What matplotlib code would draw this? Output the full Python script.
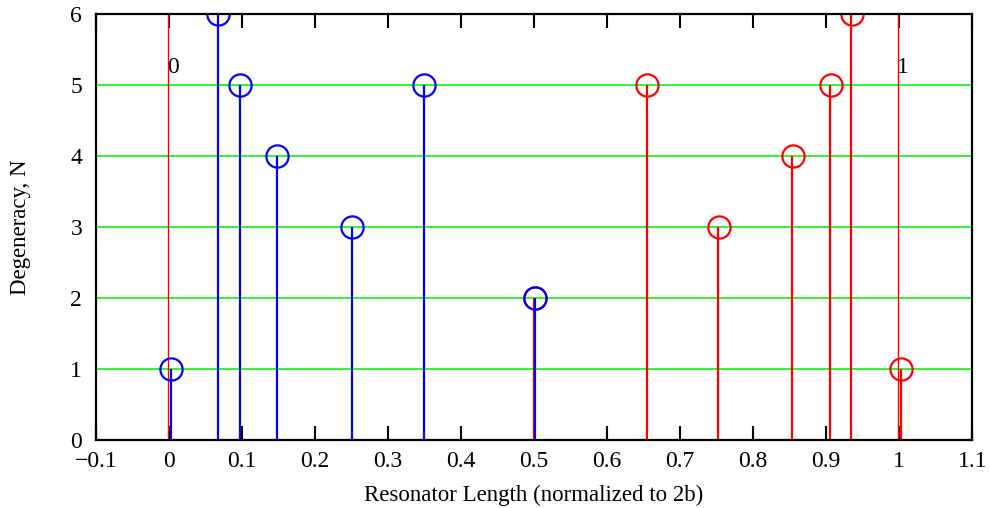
import matplotlib

matplotlib.rcParams['font.family'] = 'Liberation Serif'
matplotlib.rcParams['font.size'] = 17

import matplotlib.pyplot as plt

# degeneracy positions
blue_x = [0.003, 0.067, 0.097, 0.148, 0.251, 0.349, 0.501]
blue_n = [1, 6, 5, 4, 3, 5, 2]
red_x = [0.501, 0.655, 0.753, 0.854, 0.906, 0.935, 1.003]
red_n = [2, 5, 3, 4, 5, 6, 1]
bounds_x = [0.0, 1.0]
bounds_lbl = ["0", "1"]

fig = plt.figure(figsize=(9.9, 5.08), dpi=100)
ax = fig.add_axes([0.097, 0.134, 0.885, 0.838])
ax.set_xlim(-0.1, 1.1)
ax.set_ylim(0, 6)

for y in range(1, 7):
    ax.axhline(y, color='#11f011', linewidth=1.2, zorder=1, clip_on=False)

for x, lbl in zip(bounds_x, bounds_lbl):
    ax.axvline(x - 0.002, color='red', linewidth=1.0, zorder=2)
    ax.text(x + 0.005, 5.25, lbl, fontsize=17, ha='center', va='center')

ax.vlines([x - 0.001 for x in red_x], 0, red_n, color='red', linewidth=1.6, zorder=3)
ax.plot(red_x, red_n, 'o', ms=16, mfc='none', mec='red', mew=1.6, zorder=3)
ax.vlines(blue_x, 0, blue_n, color='blue', linewidth=1.6, zorder=4)
ax.plot(blue_x, blue_n, 'o', ms=16, mfc='none', mec='blue', mew=1.6, zorder=4)

ax.set_xticks([-0.1, 0, 0.1, 0.2, 0.3, 0.4, 0.5, 0.6, 0.7, 0.8, 0.9, 1, 1.1])
ax.set_xticklabels(["\u22120.1", "0", "0.1", "0.2", "0.3", "0.4", "0.5",
                    "0.6", "0.7", "0.8", "0.9", "1", "1.1"])
ax.set_yticks(range(0, 7))
ax.tick_params(axis='x', direction='in', length=10, width=1.5, top=True,
               pad=8, labelsize=17)
ax.tick_params(axis='y', length=0, pad=10, labelsize=17)
for s in ax.spines.values():
    s.set_linewidth(1.6)
    s.set_zorder(5)

ax.set_xlabel("Resonator Length (normalized to 2b)", fontsize=16.5, labelpad=9)
ax.set_ylabel("Degeneracy, N", fontsize=16.5, labelpad=28)

fig.savefig("out.png", dpi=100)
